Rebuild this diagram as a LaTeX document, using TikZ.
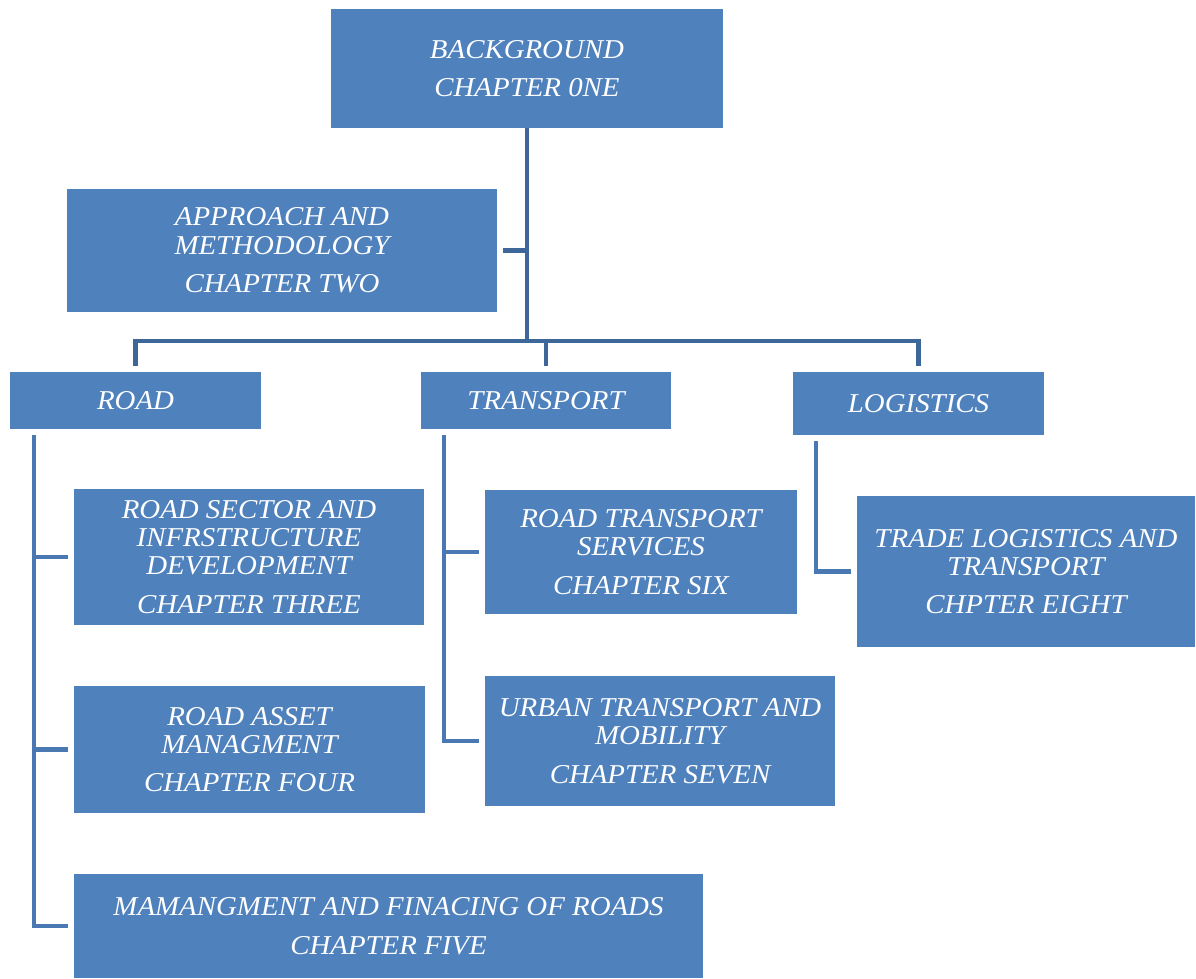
\documentclass[tikz,border=0pt]{standalone}
\usepackage{fontspec}
\setmainfont[FakeStretch=1.06]{Liberation Serif}
\usetikzlibrary{positioning}
\definecolor{boxblue}{HTML}{4F81BD}
\definecolor{toplinkcol}{HTML}{3D6699}
\definecolor{sublinkcol}{HTML}{4A78B2}
\tikzset{
  chap/.style={fill=boxblue, text=white, inner sep=0pt, align=center,
    font=\fontsize{15.5}{16}\selectfont\itshape},
  toplink/.style={draw=toplinkcol, line width=2.8pt},
  sublink/.style={draw=sublinkcol, line width=2.8pt, shorten >=0.12cm},
}
\begin{document}
\begin{tikzpicture}[x=0.02cm,y=-0.02cm]%
\useasboundingbox (0,0) rectangle (1196,978);%
%
% top of the tree
\node[chap, minimum width=7.84cm, minimum height=2.38cm] (bg) at (527,68.5)
  {BACKGROUND\\[6pt]CHAPTER 0NE};%
\node[chap, minimum width=8.6cm, minimum height=2.46cm] (app) at (282,250.5)
  {APPROACH AND\\METHODOLOGY\\[6pt]CHAPTER TWO};%
%
% the three parts
\node[chap, minimum width=5.02cm, minimum height=1.14cm] (road) at (135.5,400.5) {ROAD};%
\node[chap, minimum width=5cm, minimum height=1.14cm] (transport) at (546,400.5) {TRANSPORT};%
\node[chap, minimum width=5.02cm, minimum height=1.26cm] (logistics) at (918.5,403.5) {LOGISTICS};%
%
% chapters under road
\node[chap, minimum width=7cm, minimum height=2.72cm] (roadsector) at (249,557)
  {ROAD SECTOR AND\\INFRSTRUCTURE\\DEVELOPMENT\\[6pt]CHAPTER THREE};%
\node[chap, minimum width=7.02cm, minimum height=2.54cm] (roadasset) at (249.5,749.5)
  {ROAD ASSET\\MANAGMENT\\[6pt]CHAPTER FOUR};%
\node[chap, minimum width=12.58cm, minimum height=2.08cm] (financing) at (388.5,926)
  {MAMANGMENT AND FINACING OF ROADS\\[6pt]CHAPTER FIVE};%
%
% chapters under transport
\node[chap, minimum width=6.24cm, minimum height=2.48cm] (services) at (641,552)
  {ROAD TRANSPORT\\SERVICES\\[6pt]CHAPTER SIX};%
\node[chap, minimum width=7cm, minimum height=2.6cm] (urban) at (660,741)
  {URBAN TRANSPORT AND\\MOBILITY\\[6pt]CHAPTER SEVEN};%
%
% chapter under logistics
\node[chap, minimum width=6.76cm, minimum height=3.02cm] (trade) at (1026,571.5)
  {TRADE LOGISTICS AND\\TRANSPORT\\[6pt]CHPTER EIGHT};%
%
% connectors
\coordinate (bar) at (527,341);%
\coordinate (roadspine) at (34,435);%
\coordinate (transpine) at (444,435);%
\coordinate (logspine) at (816,441);%
\draw[toplink] (bg.south) -- (bar);%
\draw[toplink, shorten >=0.12cm] (bg.south |- app.east) -- (app.east);%
\draw[toplink, shorten >=0.12cm] (bar) -| (road.north);%
\draw[toplink, shorten >=0.12cm] (bar) -| (transport.north);%
\draw[toplink, shorten >=0.12cm] (bar) -| (logistics.north);%
%
\draw[sublink] (roadspine) |- (roadsector.west);%
\draw[sublink] (roadspine) |- (roadasset.west);%
\draw[sublink] (roadspine) |- (financing.west);%
\draw[sublink] (transpine) |- (services.west);%
\draw[sublink] (transpine) |- (urban.west);%
\draw[sublink] (logspine) |- (trade.west);%
%
\end{tikzpicture}
\end{document}
